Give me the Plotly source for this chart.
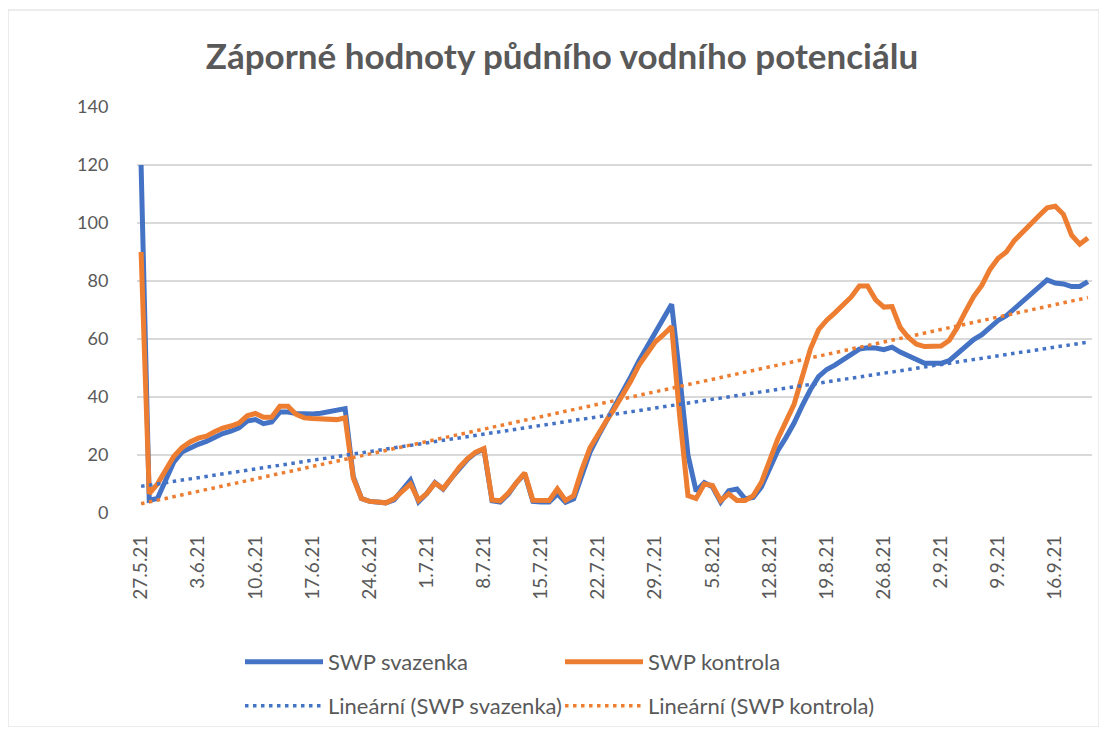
import numpy as np
import pandas as pd
import plotly.graph_objects as go

# ---------------- data ----------------
start_date = "2021-05-27"          # first measurement, daily values

swp_svazenka = [
    120, 4.4, 5, 11.5, 17.5, 21, 22.5, 23.7, 24.7, 26.2,
    27.4, 28.2, 29.4, 31.7, 32.2, 30.8, 31.4, 34.8, 34.8, 34.3,
    34, 34.1, 34.4, 34.8, 35.4, 36, 12.5, 5, 4, 3.6,
    3.5, 4.5, 8, 11.3, 3.9, 6.7, 10.5, 8.2, 12, 15.5,
    18.5, 20.8, 22, 4.2, 3.8, 6.5, 10.5, 13.5, 4, 3.8,
    3.8, 6.6, 3.7, 4.9, 13, 21, 26.5, 31.5, 36.5, 41.5,
    47, 52.5, 57.5, 62.5, 67.5, 72, 47, 20, 7.5, 10.5,
    9, 3.8, 7.7, 8.3, 4.9, 5.4, 9, 15, 21.5, 26,
    31, 37, 42.5, 47, 49.5, 51, 53, 55, 56.5, 57,
    56.9, 56.3, 57.2, 55.5, 54.3, 53, 51.6, 51.6, 51.6, 52.5,
    55, 57.5, 59.8, 61.5, 64.2, 66.4, 68, 70.5, 72.6, 75.5,
    78, 80.4, 79.3, 79, 78.1, 78.1, 79.8,
]

swp_kontrola = [
    90, 6.7, 10, 15, 19.5, 22.5, 24.5, 25.8, 26.5, 28,
    29.3, 30, 31, 33.5, 34.3, 33, 33, 36.8, 36.8, 34,
    32.8, 32.6, 32.5, 32.3, 32.2, 32.8, 12, 5, 4, 3.8,
    3.5, 4.9, 7.5, 10, 4.4, 6.7, 10.3, 8.4, 12, 15.8,
    18.8, 21, 22.2, 4.5, 4.2, 6.9, 10.5, 13.8, 4.4, 4.3,
    4.3, 8.3, 4.3, 6, 15, 22.5, 27.5, 31.8, 36, 40.5,
    45.5, 51, 55, 59, 61.5, 64.3, 33, 6, 5, 10,
    9.5, 4.3, 6.6, 4.3, 4.3, 6, 10.6, 18.5, 25.5, 31.5,
    37.5, 47, 56.5, 63.2, 66.5, 69, 71.5, 74.5, 78.3, 78.3,
    73.5, 71, 71.2, 64, 60.5, 58.2, 57.4, 57.5, 57.6, 59.5,
    64, 69.5, 74.6, 78.5, 84, 87.8, 90, 94, 97, 99.5,
    102.5, 105.2, 105.8, 103, 95.8, 92.7, 94.8,
]

series_names = ["SWP svazenka", "SWP kontrola"]
trend_names = ["Lineární (SWP svazenka)", "Lineární (SWP kontrola)"]
title_text = "Záporné hodnoty půdního vodního potenciálu"
y_ticks = [0, 20, 40, 60, 80, 100, 120, 140]

# ---------------- layout helpers ----------------
OFF = 8                      # default page margin around the plot div
W, H = 1107 - 2 * OFF, 735 - 2 * OFF
PW, PH = 955, 406
L, T = 137 - OFF, 107 - OFF
R, B = W - L - PW, H - T - PH


def px_x(page_px):
    return (page_px - OFF - L) / PW


def px_y(page_py):
    return (H - B - (page_py - OFF)) / PH


BLUE = "#4472C4"
ORANGE = "#ED7D31"
TEXT = "#595959"
GRID = "#D9D9D9"
FONT = "Lato"

dates = pd.date_range(start_date, periods=len(swp_svazenka), freq="D")
day_idx = np.arange(len(dates))

fig = go.Figure()

for vals, name, color in [(swp_svazenka, series_names[0], BLUE),
                          (swp_kontrola, series_names[1], ORANGE)]:
    fig.add_trace(go.Scatter(
        x=dates, y=vals, mode="lines", name=name,
        line=dict(color=color, width=5),
        legend="legend", hoverinfo="skip",
    ))

for vals, name, color in [(swp_svazenka, trend_names[0], BLUE),
                          (swp_kontrola, trend_names[1], ORANGE)]:
    slope, intercept = np.polyfit(day_idx, np.asarray(vals, dtype=float), 1)
    fit = slope * day_idx + intercept
    fig.add_trace(go.Scatter(
        x=dates, y=fit, mode="lines", name=name,
        line=dict(color=color, width=3.5, dash="3.5px,4.5px"),
        legend="legend2", hoverinfo="skip",
    ))

x_start = dates[0] - pd.Timedelta(hours=12)
x_end = dates[-1] + pd.Timedelta(hours=12)

legend_common = dict(
    orientation="h", xanchor="left", yanchor="middle",
    font=dict(family=FONT, size=22, color=TEXT),
    entrywidth=227, entrywidthmode="pixels",
    itemwidth=78,
    bgcolor="rgba(0,0,0,0)", borderwidth=0,
    tracegroupgap=0,
)

fig.update_layout(
    width=W, height=H,
    margin=dict(l=L, r=R, t=T, b=B, autoexpand=False),
    paper_bgcolor="white", plot_bgcolor="white",
    font=dict(family=FONT, color=TEXT),
    title=dict(
        text=f"<b>{title_text}</b>",
        x=(562 - OFF) / W, xref="container", xanchor="center",
        y=1 - (57 - OFF) / H, yref="container", yanchor="middle",
        font=dict(family=FONT, size=35, color=TEXT),
    ),
    xaxis=dict(
        type="date", range=[x_start, x_end],
        tickmode="linear", tick0=dates[0], dtick=7 * 24 * 3600 * 1000,
        tickformat="%-d.%-m.%y", tickangle=-90,
        tickfont=dict(family=FONT, size=19, color=TEXT),
        ticks="outside", ticklen=14, tickcolor="rgba(0,0,0,0)",
        showgrid=False, zeroline=False, showline=False,
    ),
    yaxis=dict(
        range=[0, 140], tickvals=y_ticks,
        tickfont=dict(family=FONT, size=18, color=TEXT),
        ticks="outside", ticklen=24, tickcolor="rgba(0,0,0,0)",
        showgrid=True, gridcolor=GRID, gridwidth=1.5,
        zeroline=False, showline=False,
    ),
    legend=dict(x=px_x(240), y=px_y(662), **legend_common),
    legend2=dict(x=px_x(240), y=px_y(706), **legend_common),
    shapes=[dict(
        type="rect", xref="paper", yref="paper",
        x0=px_x(8), x1=px_x(1099), y0=px_y(727), y1=px_y(10),
        line=dict(color=GRID, width=1), fillcolor="rgba(0,0,0,0)",
        layer="below",
    )],
)

fig.write_html("out.html")
